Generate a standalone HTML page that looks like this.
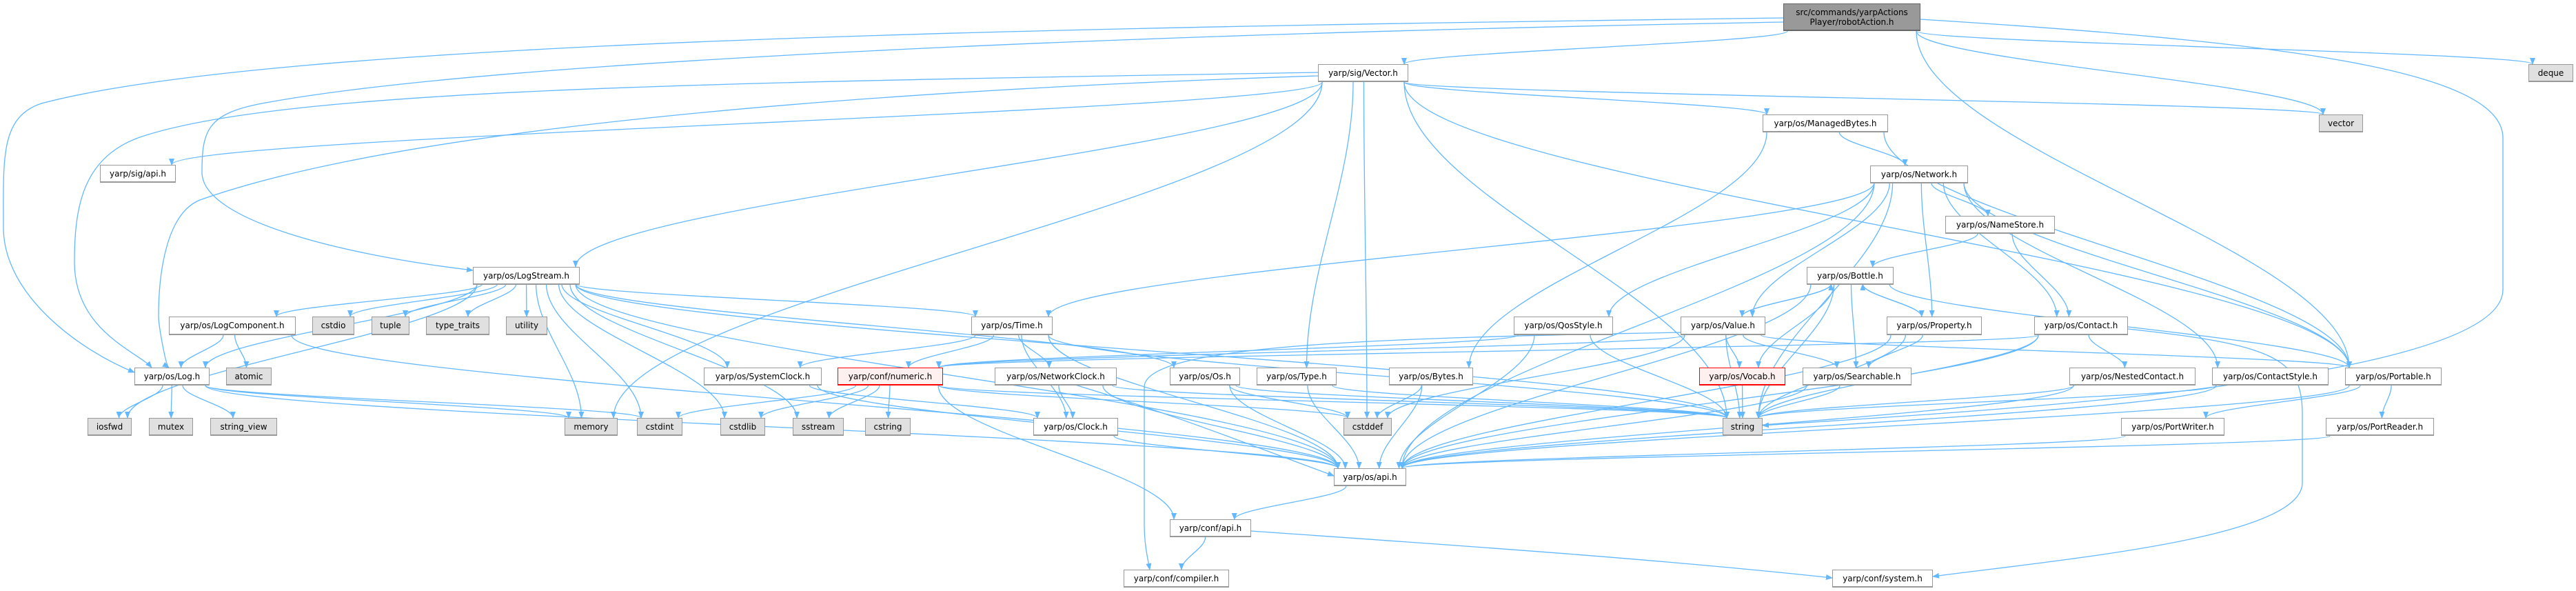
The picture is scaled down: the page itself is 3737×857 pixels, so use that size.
<!DOCTYPE html>
<html><head><meta charset="utf-8"><style>
body{margin:0;background:#fff;width:3737px;height:857px;position:relative;overflow:hidden;font-family:"DejaVu Sans","Liberation Sans",sans-serif}
.n{position:absolute;box-sizing:border-box;border:1px solid #999;border-bottom-width:2px;background:#fff;font-size:12px;color:#000;display:flex;align-items:center;justify-content:center;white-space:nowrap;line-height:14px;text-align:center}
.g{background:#e0e0e0;border-color:#999}
.r{background:#fff0f0;border-color:#f00}
.root{background:#999;border-color:#666}
svg{position:absolute;left:0;top:0}
</style></head><body>
<svg id="s" width="3737" height="857"><defs><marker id="a" markerWidth="10" markerHeight="8" refX="9" refY="4" orient="auto" markerUnits="userSpaceOnUse"><path d="M0,0 L10,4 L0,8 z" fill="#63b8ff"/></marker></defs><g id="e" fill="none" stroke="#63b8ff" stroke-width="1.3"></g></svg>
<div class="n root" style="left:2587px;top:5px;width:199px;height:40px">src/commands/yarpActions<br>Player/robotAction.h</div>
<div class="n" style="left:1912px;top:93px;width:131px;height:26px">yarp/sig/Vector.h</div>
<div class="n g" style="left:3668px;top:93px;width:65px;height:26px">deque</div>
<div class="n g" style="left:3364px;top:166px;width:64px;height:26px">vector</div>
<div class="n" style="left:2557px;top:166px;width:182px;height:26px">yarp/os/ManagedBytes.h</div>
<div class="n" style="left:145px;top:239px;width:110px;height:26px">yarp/sig/api.h</div>
<div class="n" style="left:2713px;top:240px;width:142px;height:26px">yarp/os/Network.h</div>
<div class="n" style="left:2822px;top:313px;width:159px;height:26px">yarp/os/NameStore.h</div>
<div class="n" style="left:686px;top:387px;width:155px;height:26px">yarp/os/LogStream.h</div>
<div class="n" style="left:2621px;top:387px;width:126px;height:26px">yarp/os/Bottle.h</div>
<div class="n" style="left:245px;top:459px;width:184px;height:27px">yarp/os/LogComponent.h</div>
<div class="n g" style="left:453px;top:459px;width:61px;height:27px">cstdio</div>
<div class="n g" style="left:539px;top:459px;width:55px;height:27px">tuple</div>
<div class="n g" style="left:618px;top:459px;width:92px;height:27px">type_traits</div>
<div class="n g" style="left:734px;top:459px;width:60px;height:27px">utility</div>
<div class="n" style="left:1409px;top:459px;width:118px;height:27px">yarp/os/Time.h</div>
<div class="n" style="left:2196px;top:459px;width:144px;height:27px">yarp/os/QosStyle.h</div>
<div class="n" style="left:2438px;top:459px;width:123px;height:27px">yarp/os/Value.h</div>
<div class="n" style="left:2737px;top:459px;width:138px;height:27px">yarp/os/Property.h</div>
<div class="n" style="left:2951px;top:459px;width:136px;height:27px">yarp/os/Contact.h</div>
<div class="n" style="left:195px;top:533px;width:109px;height:26px">yarp/os/Log.h</div>
<div class="n g" style="left:328px;top:533px;width:66px;height:26px">atomic</div>
<div class="n" style="left:1021px;top:533px;width:171px;height:26px">yarp/os/SystemClock.h</div>
<div class="n r" style="left:1215px;top:533px;width:153px;height:26px">yarp/conf/numeric.h</div>
<div class="n" style="left:1443px;top:533px;width:177px;height:26px">yarp/os/NetworkClock.h</div>
<div class="n" style="left:1697px;top:533px;width:102px;height:26px">yarp/os/Os.h</div>
<div class="n" style="left:1823px;top:533px;width:116px;height:26px">yarp/os/Type.h</div>
<div class="n" style="left:2015px;top:533px;width:122px;height:26px">yarp/os/Bytes.h</div>
<div class="n r" style="left:2465px;top:533px;width:125px;height:26px">yarp/os/Vocab.h</div>
<div class="n" style="left:2615px;top:533px;width:158px;height:26px">yarp/os/Searchable.h</div>
<div class="n" style="left:3002px;top:533px;width:183px;height:26px">yarp/os/NestedContact.h</div>
<div class="n" style="left:3209px;top:533px;width:169px;height:26px">yarp/os/ContactStyle.h</div>
<div class="n" style="left:3402px;top:533px;width:140px;height:26px">yarp/os/Portable.h</div>
<div class="n g" style="left:127px;top:606px;width:64px;height:26px">iosfwd</div>
<div class="n g" style="left:216px;top:606px;width:64px;height:26px">mutex</div>
<div class="n g" style="left:305px;top:606px;width:97px;height:26px">string_view</div>
<div class="n g" style="left:819px;top:606px;width:77px;height:26px">memory</div>
<div class="n g" style="left:924px;top:606px;width:66px;height:26px">cstdint</div>
<div class="n g" style="left:1045px;top:606px;width:65px;height:26px">cstdlib</div>
<div class="n g" style="left:1150px;top:606px;width:74px;height:26px">sstream</div>
<div class="n g" style="left:1255px;top:606px;width:66px;height:26px">cstring</div>
<div class="n" style="left:1499px;top:606px;width:123px;height:26px">yarp/os/Clock.h</div>
<div class="n g" style="left:1949px;top:606px;width:70px;height:26px">cstddef</div>
<div class="n g" style="left:2499px;top:606px;width:58px;height:26px">string</div>
<div class="n" style="left:3077px;top:606px;width:150px;height:26px">yarp/os/PortWriter.h</div>
<div class="n" style="left:3374px;top:606px;width:157px;height:26px">yarp/os/PortReader.h</div>
<div class="n" style="left:1935px;top:679px;width:105px;height:26px">yarp/os/api.h</div>
<div class="n" style="left:1697px;top:753px;width:118px;height:26px">yarp/conf/api.h</div>
<div class="n" style="left:1630px;top:826px;width:153px;height:26px">yarp/conf/compiler.h</div>
<div class="n" style="left:2658px;top:826px;width:146px;height:26px">yarp/conf/system.h</div>
<script>
var N={root:[2587,2786,5,45],Vector:[1912,2043,93,119],deque:[3668,3733,93,119],vector:[3364,3428,166,192],MB:[2557,2739,166,192],sigapi:[145,255,239,265],Network:[2713,2855,240,265],NameStore:[2822,2981,313,339],LogStream:[686,841,387,412],Bottle:[2621,2747,387,412],
LogComp:[245,429,459,486],cstdio:[453,514,459,486],tuple:[539,594,459,486],tt:[618,710,459,486],utility:[734,794,459,486],Time:[1409,1527,459,486],Qos:[2196,2340,459,486],Value:[2438,2561,459,486],Property:[2737,2875,459,486],Contact:[2951,3087,459,486],
Log:[195,304,533,559],atomic:[328,394,533,559],SysClock:[1021,1192,533,559],numeric:[1215,1368,533,559],NetClock:[1443,1620,533,559],Os:[1697,1799,533,559],Type:[1823,1939,533,559],Bytes:[2015,2137,533,559],Vocab:[2465,2590,533,559],Search:[2615,2773,533,559],Nested:[3002,3185,533,559],CStyle:[3209,3378,533,559],Portable:[3402,3542,533,559],
iosfwd:[127,191,606,632],mutex:[216,280,606,632],sv:[305,402,606,632],memory:[819,896,606,632],cstdint:[924,990,606,632],cstdlib:[1045,1110,606,632],sstream:[1150,1224,606,632],cstring:[1255,1321,606,632],Clock:[1499,1622,606,632],cstddef:[1949,2019,606,632],string:[2499,2557,606,632],PW:[3077,3227,606,632],PR:[3374,3531,606,632],
api:[1935,2040,679,705],confapi:[1697,1815,753,779],compiler:[1630,1783,826,852],system:[2658,2804,826,852]};
var E="root>Vector root>vector root>deque root>Portable Vector>sigapi Vector>MB Vector>cstddef Vector>Type Vector>vector Vector>Portable Vector>string Vector>memory Vector>LogStream MB>Network MB>Bytes MB>Portable "+
"LogStream>LogComp LogStream>cstdio LogStream>tuple LogStream>tt LogStream>utility LogStream>Log LogStream>iosfwd LogStream>SysClock LogStream>Time LogStream>Os LogStream>api LogStream>cstdlib LogStream>sstream LogStream>memory LogStream>string LogStream>cstdint "+
"LogComp>Log LogComp>atomic LogComp>api Log>iosfwd Log>mutex Log>sv Log>memory Log>cstdint Log>api Time>numeric Time>SysClock Time>NetClock Time>Clock Time>string Time>api SysClock>Clock SysClock>api "+
"numeric>cstdint numeric>cstdlib numeric>sstream numeric>cstring numeric>confapi numeric>cstddef numeric>string NetClock>Clock NetClock>api NetClock>string Os>cstddef Os>api Os>string Type>api Type>string Bytes>cstddef Bytes>api Clock>api api>confapi confapi>compiler "+
"Qos>numeric Qos>api Qos>string Value>numeric Value>Bottle Value>Vocab Value>Search Value>Portable Value>string Value>cstddef Bottle>Value Bottle>Vocab Bottle>Search Bottle>Property Bottle>string Bottle>Portable Bottle>api Property>Bottle Property>Search Property>string Property>api "+
"Contact>numeric Contact>Nested Contact>string Contact>api Nested>string Nested>api CStyle>string CStyle>api Portable>PW Portable>PR Portable>api PW>api PR>api Search>string Search>api Vocab>string "+
"Network>Time Network>Qos Network>Value Network>Property Network>NameStore Network>Contact Network>CStyle Network>Portable Network>string Network>api NameStore>Bottle NameStore>Contact";
var g=document.getElementById('e'),s='';
function P(d){s+='<path d="'+d+'" marker-end="url(#a)"/>';}
E.split(' ').forEach(function(p){var a=p.split('>'),A=N[a[0]],B=N[a[1]];if(!A||!B)return;
var ax=(A[0]+A[1])/2,bx=(B[0]+B[1])/2,sy,ty;
if(B[2]>A[3]+2){sy=A[3];ty=B[2];}else if(B[3]<A[2]-2){sy=A[2];ty=B[3];}else{sy=(A[2]+A[3])/2;ty=(B[2]+B[3])/2;ax=bx>ax?A[1]:A[0];bx=bx>ax?B[0]:B[1];}
var sx=Math.max(A[0]+6,Math.min(A[1]-6,ax+(bx-ax)*0.15)),tx=Math.max(B[0]+6,Math.min(B[1]-6,bx+(ax-bx)*0.15));
var m=(ty-sy)*0.35;P('M'+sx+','+sy+' C'+sx+','+(sy+m)+' '+tx+','+(ty-m)+' '+tx+','+ty);});
P('M2587,26 C1500,40 400,60 60,150 C0,170 5,230 5,330 C5,430 120,510 195,540');
P('M2587,32 C1600,50 700,90 380,150 C300,165 293,190 293,250 C293,320 500,370 686,392');
P('M2786,28 C3300,60 3631,100 3631,200 L3631,420 C3631,560 2800,600 2557,617');
P('M3087,477 C3300,500 3340,520 3340,600 L3340,700 C3340,780 3000,810 2804,836');
P('M1815,770 C2100,790 2400,810 2658,838');
P('M1912,105 C1000,120 400,130 200,200 C120,230 108,300 108,380 C108,480 200,510 220,533');
P('M1912,110 C1300,130 600,180 290,290 C240,310 230,400 230,459 C230,470 240,530 245,533');
P('M1550,555 C1700,600 1800,640 1935,690');
P('M2440,482 C2000,490 1665,500 1660,560 L1660,760 C1660,790 1665,810 1668,826');
g.innerHTML=s;
</script>
</body></html>
